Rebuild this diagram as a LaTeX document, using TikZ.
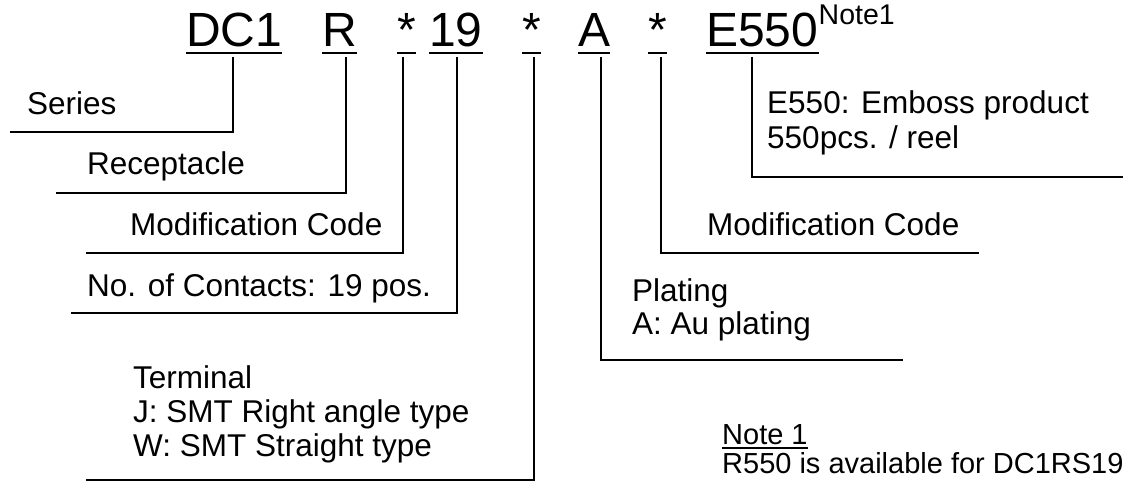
\documentclass[tikz,border=0pt]{standalone}
\usepackage{fontspec}
\setmainfont{Liberation Sans}

\begin{document}
\begin{tikzpicture}[x=1pt, y=-1pt,
      part/.style={font=\fontsize{48}{48}\selectfont, inner sep=0pt, anchor=base west},
      lbl/.style={font=\fontsize{31.5}{34}\selectfont, inner sep=0pt, anchor=base west},
      note/.style={font=\fontsize{29}{30}\selectfont, inner sep=0pt, anchor=base west},
      uline/.style={line width=2.7pt},
      lead/.style={line width=2pt}
      ]
      \useasboundingbox (0,0) rectangle (1123,481);
      \clip (0,0) rectangle (1123,481);
      % part number
      \node[part] (dc) at (186,47) {DC1};
      \node[part] (r) at (322,47) {R};
      \node[part] (mA) at (397,47) {*};
      \node[part] (pos) at (429,47) {19};
      \node[part] (mB) at (522,47) {*};
      \node[part] (a) at (578,47) {A};
      \node[part] (mC) at (648,47) {*};
      \node[part] (e) at (706,47) {E550};
      \node[note, font=\fontsize{28.5}{28}\selectfont] (sup) at ([yshift=22pt]e.base east) {Note1};
      \foreach \p in {dc, r, mA, pos, mB, a, mC, e}
        \draw[uline] ([yshift=-6pt]\p.base west) -- ([yshift=-6pt]\p.base east);
      % labels
      \node[lbl] (series) at (27,115) {Series};
      \node[lbl] (recept) at (87,175) {Receptacle};
      \node[lbl] (modL) at (130,235) {Modification Code};
      \node[lbl] (contacts) at (87,296) {No. of Contacts: 19 pos.};
      \node[lbl] (term) at (133,388) {Terminal};
      \node[lbl] (termJ) at ([yshift=-34pt]term.base west) {J: SMT Right angle type};
      \node[lbl] (termW) at ([yshift=-34pt]termJ.base west) {W: SMT Straight type};
      \node[lbl] (plat) at (632,301) {Plating};
      \node[lbl] (platA) at ([yshift=-33pt]plat.base west) {A: Au plating};
      \node[lbl] (modR) at (707,235) {Modification Code};
      \node[lbl] (emb) at (767,114) {E550: Emboss product};
      \node[lbl] (reel) at ([yshift=-35pt]emb.base west) {550pcs. / reel};
      \node[note] (note) at (722,444) {Note 1};
      \draw[line width=1.6pt] ([yshift=-4pt]note.base west) -- ([yshift=-4pt]note.base east);
      \node[note] (avail) at ([yshift=-29pt]note.base west) {R550 is available for DC1RS19};
      % leader ends
      \coordinate (dc-t) at (233,57);   \coordinate (dc-e) at (10,132);
      \coordinate (r-t) at (346,57);    \coordinate (r-e) at (56,193);
      \coordinate (mA-t) at (403,57);   \coordinate (mA-e) at (86,253);
      \coordinate (pos-t) at (457,57);  \coordinate (pos-e) at (71,313);
      \coordinate (mB-t) at (534,57);   \coordinate (mB-e) at (86,480);
      \coordinate (a-t) at (601,57);    \coordinate (a-e) at (903,360);
      \coordinate (mC-t) at (661,57);   \coordinate (mC-e) at (979,253);
      \coordinate (e-t) at (752,57);    \coordinate (e-e) at (1130,177);
      \foreach \p in {dc, r, mA, pos, mB, a, mC, e}
        \draw[lead] (\p-t) |- (\p-e);
    \end{tikzpicture}
\end{document}
